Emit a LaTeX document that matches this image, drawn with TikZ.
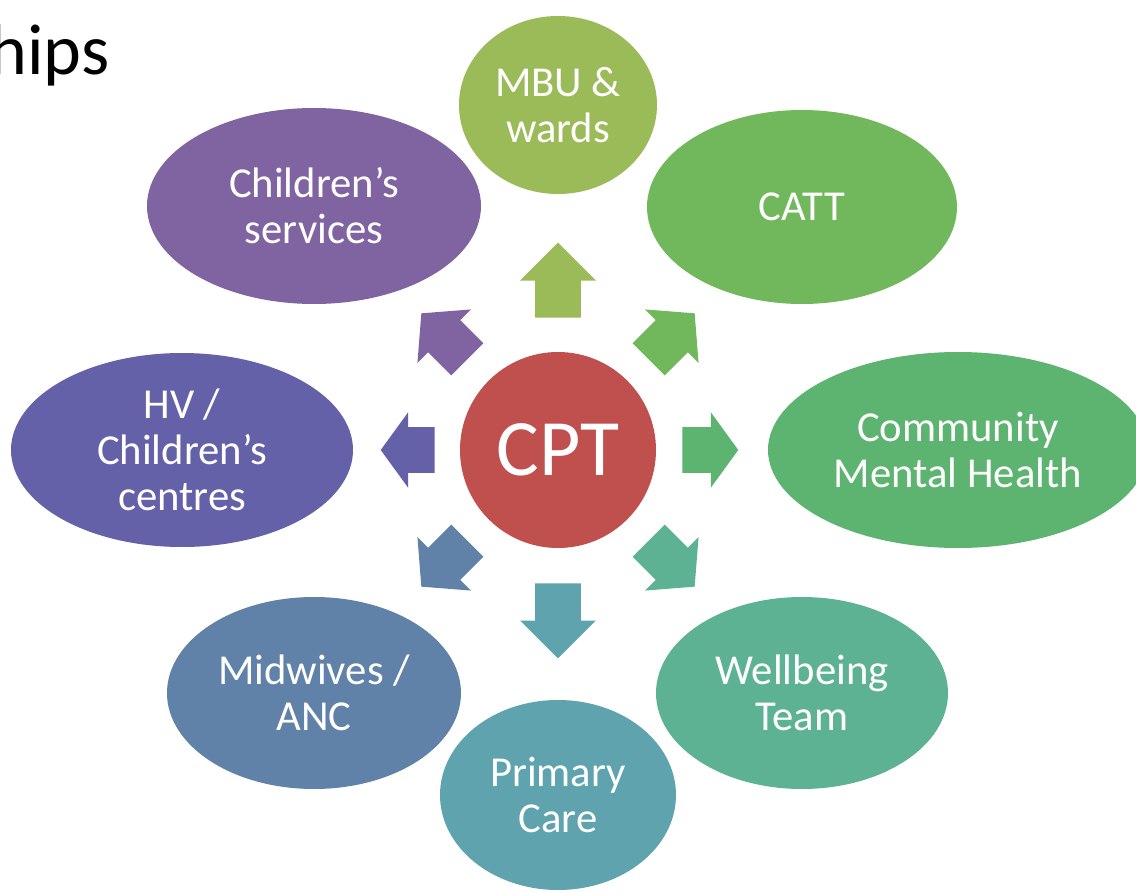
\documentclass[tikz,border=0pt]{standalone}
\usepackage{fontspec}
\setmainfont{Carlito}
\usetikzlibrary{shapes.geometric, shapes.arrows}
\definecolor{cptred}{HTML}{C0504D}
\definecolor{mbugreen}{HTML}{9BBB59}
\definecolor{cattgreen}{HTML}{71B75B}
\definecolor{cmhgreen}{HTML}{5CB470}
\definecolor{wellteal}{HTML}{5DB293}
\definecolor{primteal}{HTML}{5EA3AD}
\definecolor{midblue}{HTML}{6182A8}
\definecolor{hvblue}{HTML}{6461A8}
\definecolor{chpurple}{HTML}{8064A1}

\begin{document}
\begin{tikzpicture}[
    x=0.75pt, y=0.75pt,
    team/.style={ellipse, fill=#1, draw=none, text=white, align=center,
                 inner sep=0pt, font=\fontsize{32}{34.5}\selectfont},
    blockarr/.style={single arrow, fill=#1, draw=none, inner xsep=0pt,
                     inner ysep=16.875pt, single arrow head extend=11.25pt,
                     minimum width=56.25pt, anchor=tail},
]
    \clip (-558,-443) rectangle (578,450);
    \useasboundingbox (-558,-443) rectangle (578,450);

    % title, cut at the page edge
    \node[anchor=base west, inner sep=0pt, font=\fontsize{54}{60}\selectfont]
        (title) at (-569,375) {hips};

    % centre
    \node[circle, fill=cptred, text=white, minimum size=147pt, inner sep=0pt,
          font=\fontsize{60}{72}\selectfont] (cpt) at (0,0) {CPT};

    % teams round the centre
    \node[team=mbugreen, minimum width=148.5pt, minimum height=133.5pt] (mbu) at (0,345) {MBU \&\\wards};
    \node[team=cattgreen, minimum width=232.5pt, minimum height=145.5pt] (catt) at (244,243) {CATT};
    \node[team=cmhgreen, minimum width=285pt, minimum height=147pt] (cmh) at (400,0) {Community\\Mental Health};
    \node[team=wellteal, minimum width=219pt, minimum height=144pt] (wellbeing) at (244,-243) {Wellbeing\\Team};
    \node[team=primteal, minimum width=177pt, minimum height=142.5pt] (primary) at (0,-345) {Primary\\Care};
    \node[team=midblue, minimum width=220.5pt, minimum height=144pt] (midwives) at (-244,-243) {Midwives /\\ANC};
    \node[team=hvblue, minimum width=256.5pt, minimum height=145.5pt] (hv) at (-376,0) {HV /\\Children’s\\centres};
    \node[team=chpurple, minimum width=250.5pt, minimum height=147pt] (childrens) at (-244,244) {Children’s\\services};

    % block arrows out of the centre
    \node[blockarr=mbugreen, minimum height=56.25pt, rotate=90] (a1) at (90:132) {};
    \node[blockarr=cattgreen, minimum height=48.75pt, single arrow tip angle=99, rotate=45] (a2) at (45:128) {};
    \node[blockarr=cmhgreen, minimum height=42pt, single arrow tip angle=108] (a3) at (0:124) {};
    \node[blockarr=wellteal, minimum height=48.75pt, single arrow tip angle=99, rotate=-45] (a4) at (-45:128) {};
    \node[blockarr=primteal, minimum height=56.25pt, rotate=-90] (a5) at (-90:133) {};
    \node[blockarr=midblue, minimum height=48.75pt, single arrow tip angle=99, rotate=-135] (a6) at (-135:128) {};
    \node[blockarr=hvblue, minimum height=40.5pt, single arrow tip angle=108, rotate=180] (a7) at (180:123) {};
    \node[blockarr=chpurple, minimum height=48.75pt, single arrow tip angle=99, rotate=135] (a8) at (135:128) {};
\end{tikzpicture}
\end{document}
